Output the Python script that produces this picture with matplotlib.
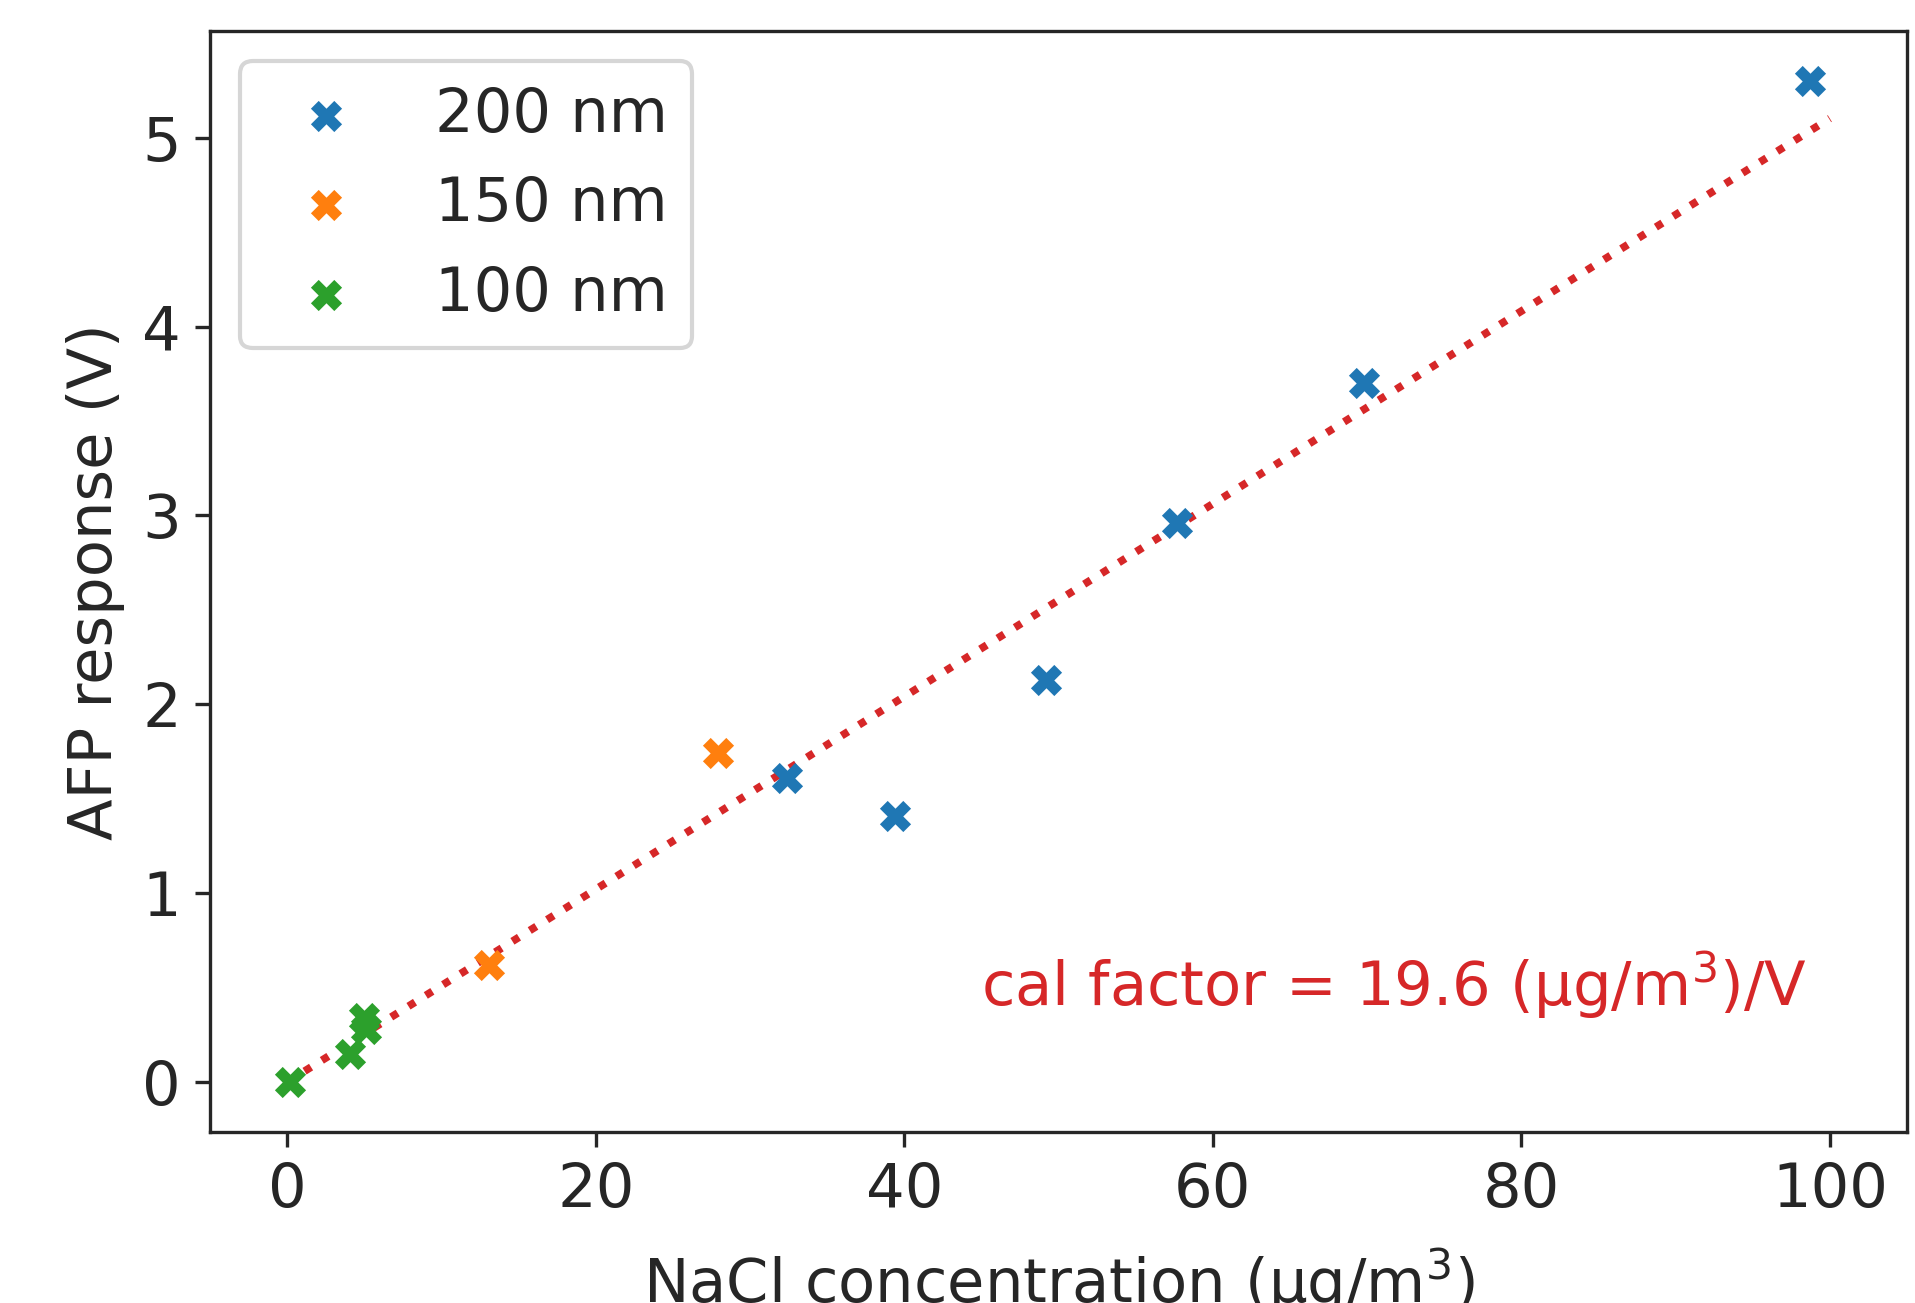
# AFP response vs NaCl concentration, calibration plot

import matplotlib
matplotlib.use("Agg")
from matplotlib import pyplot as plt
import numpy as np
import seaborn as sns

# data
x_200 = [98.7, 69.8, 57.7, 49.2, 39.4, 32.4]
y_200 = [5.30, 3.70, 2.96, 2.13, 1.41, 1.61]

x_150 = [27.9, 13.1]
y_150 = [1.74, 0.62]

x_100 = [0.2, 4.1, 5.0, 5.1]
y_100 = [0.0, 0.15, 0.34, 0.28]

labels = ["200 nm", "150 nm", "100 nm"]

cal_factor = 19.6
fit_x = [0, 100]

sns.set_style("ticks")
plt.rcParams["font.family"] = ["DejaVu Sans"]
fs = 14.6
plt.rcParams["font.size"] = fs

fig = plt.figure(figsize=(1915 / 300, 1303 / 300), dpi=300)
ax = fig.add_axes([0.1097, 0.1312, 0.8861, 0.845])

fit_y = [v / cal_factor for v in fit_x]
ax.plot(fit_x, fit_y, ":", color="C3", linewidth=1.85, zorder=1)

ax.scatter(x_200, y_200, s=56, linewidths=0, marker="X", color="C0", label=labels[0], zorder=2)
ax.scatter(x_150, y_150, s=56, linewidths=0, marker="X", color="C1", label=labels[1], zorder=2)
ax.scatter(x_100, y_100, s=56, linewidths=0, marker="X", color="C2", label=labels[2], zorder=2)

ax.text(45, 0.4, "cal factor = %.1f (µg/m$^3$)/V" % cal_factor,
        color="C3", fontsize=fs)

ax.set_xlabel("NaCl concentration (µg/m$^3$)", fontsize=fs, labelpad=6.4)
ax.set_ylabel("AFP response (V)", fontsize=fs)
ax.tick_params(labelsize=fs)
ax.legend(loc="upper left", fontsize=fs)

plt.savefig("out.png", dpi=300)
